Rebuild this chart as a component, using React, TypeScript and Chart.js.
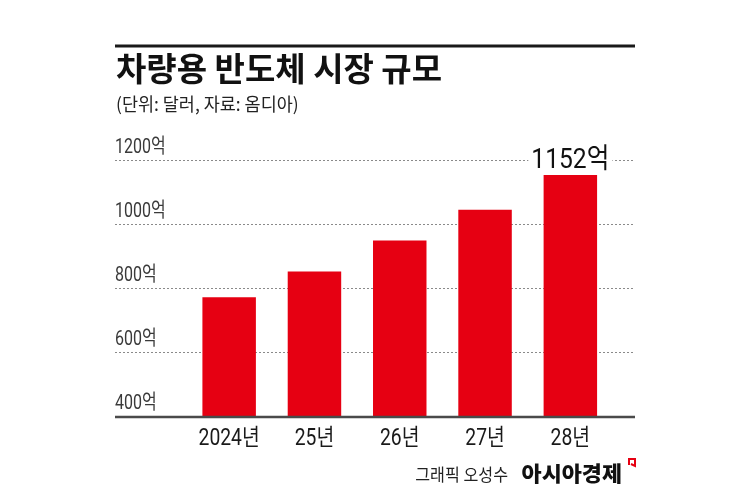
import React, { useEffect, useRef } from 'react';
import { Chart, registerables } from 'chart.js';

Chart.register(...registerables);

// ---- data ----
const categories = ['2024년', '25년', '26년', '27년', '28년'];
const values = [770, 851, 947, 1043, 1152];
const yTicks = [400, 600, 800, 1000, 1200];
const unitSuffix = '억';
const highlightIndex = 4;
const titleText = '차량용 반도체 시장 규모';
const subtitleText = '(단위: 달러, 자료: 옴디아)';
const creditText = '그래픽 오성수';
const brandText = '아시아경제';

const FONT = '"Noto Sans CJK KR", sans-serif';
const NUMFONT = 'Roboto, "Noto Sans CJK KR", sans-serif';
const RED = '#e60012';
const GRID_LEFT = 115;
const GRID_RIGHT = 635;

function txt(
  ctx: CanvasRenderingContext2D,
  s: string,
  x: number,
  y: number,
  font: string,
  color: string,
  align: CanvasTextAlign,
  sx: number
) {
  ctx.save();
  ctx.font = font;
  ctx.fillStyle = color;
  ctx.textBaseline = 'alphabetic';
  ctx.textAlign = align;
  ctx.translate(x, y);
  ctx.scale(sx, 1);
  ctx.fillText(s, 0, 0);
  ctx.restore();
}

const decor = {
  id: 'decor',
  beforeDatasetsDraw(chart: any) {
    const ctx: CanvasRenderingContext2D = chart.ctx;
    const ys = chart.scales.y;
    ctx.save();
    ctx.strokeStyle = '#8a8a8a';
    ctx.lineWidth = 1;
    ctx.setLineDash([2, 2]);
    yTicks.forEach((t, i) => {
      if (i === 0) return;
      const py = Math.round(ys.getPixelForValue(t)) + 0.5;
      ctx.beginPath();
      ctx.moveTo(GRID_LEFT, py);
      ctx.lineTo(GRID_RIGHT, py);
      ctx.stroke();
    });
    ctx.restore();
  },
  afterDatasetsDraw(chart: any) {
    const ctx: CanvasRenderingContext2D = chart.ctx;
    const ys = chart.scales.y;
    const xs = chart.scales.x;

    // baseline
    const by = ys.getPixelForValue(yTicks[0]) + 1;
    ctx.save();
    ctx.strokeStyle = '#4a4a4a';
    ctx.lineWidth = 2.5;
    ctx.beginPath();
    ctx.moveTo(GRID_LEFT, by);
    ctx.lineTo(GRID_RIGHT, by);
    ctx.stroke();

    // top rule
    ctx.strokeStyle = '#1a1a1a';
    ctx.lineWidth = 3;
    ctx.beginPath();
    ctx.moveTo(GRID_LEFT, 46);
    ctx.lineTo(GRID_RIGHT, 46);
    ctx.stroke();
    ctx.restore();

    // y labels
    yTicks.forEach((t) => {
      const py = ys.getPixelForValue(t);
      txt(ctx, `${t}${unitSuffix}`, GRID_LEFT, py - 7, `400 20px ${NUMFONT}`, '#3a3a3a', 'left', 0.8);
    });

    // x labels
    categories.forEach((c, i) => {
      const px = xs.getPixelForValue(i);
      txt(ctx, c, px, 445, `400 23px ${NUMFONT}`, '#1a1a1a', 'center', 0.84);
    });

    // highlight value label
    const meta = chart.getDatasetMeta(0);
    const bar = meta.data[highlightIndex];
    const label = `${values[highlightIndex]}${unitSuffix}`;
    const hfont = `400 28px ${NUMFONT}`;
    ctx.save();
    ctx.font = hfont;
    const w = ctx.measureText(label).width * 0.88;
    ctx.fillStyle = '#fff';
    ctx.fillRect(bar.x - w / 2 - 3, bar.y - 31, w + 6, 25);
    ctx.restore();
    txt(ctx, label, bar.x, bar.y - 7, hfont, '#111', 'center', 0.88);

    // title & subtitle
    txt(ctx, titleText, 116, 81, `700 33px ${FONT}`, '#111', 'left', 1);
    txt(ctx, subtitleText, 116, 111, `400 18px ${FONT}`, '#222', 'left', 0.97);

    // footer
    txt(ctx, creditText, 508, 481, `400 17px ${FONT}`, '#222', 'right', 0.95);
    txt(ctx, brandText, 622, 481, `900 21px ${FONT}`, '#111', 'right', 1.04);
    ctx.save();
    ctx.strokeStyle = RED;
    ctx.lineWidth = 2;
    ctx.beginPath();
    ctx.moveTo(629, 465);
    ctx.lineTo(629, 459);
    ctx.lineTo(635, 459);
    ctx.lineTo(635, 466);
    ctx.lineTo(631, 464);
    ctx.stroke();
    ctx.restore();
  },
};

export default function App() {
  const ref = useRef<HTMLCanvasElement | null>(null);
  useEffect(() => {
    if (!ref.current) return;
    const chart = new Chart(ref.current, {
      type: 'bar',
      data: {
        labels: categories,
        datasets: [
          {
            data: values,
            backgroundColor: RED,
            borderWidth: 0,
            categoryPercentage: 1,
            barPercentage: 0.627,
          },
        ],
      },
      options: {
        responsive: false,
        animation: false,
        events: [],
        layout: { padding: { left: 186.5, right: 132, top: 159.5, bottom: 83 } },
        plugins: { legend: { display: false }, tooltip: { enabled: false }, title: { display: false } },
        scales: {
          x: { display: false },
          y: { display: false, min: 400, max: 1200 },
        },
      },
      plugins: [decor],
    });
    return () => chart.destroy();
  }, []);
  return (
    <div style={{ position: 'fixed', left: 0, top: 0, width: 745, height: 499, background: '#fff' }}>
      <canvas ref={ref} width={745} height={499} style={{ width: 745, height: 499, display: 'block' }} />
    </div>
  );
}
